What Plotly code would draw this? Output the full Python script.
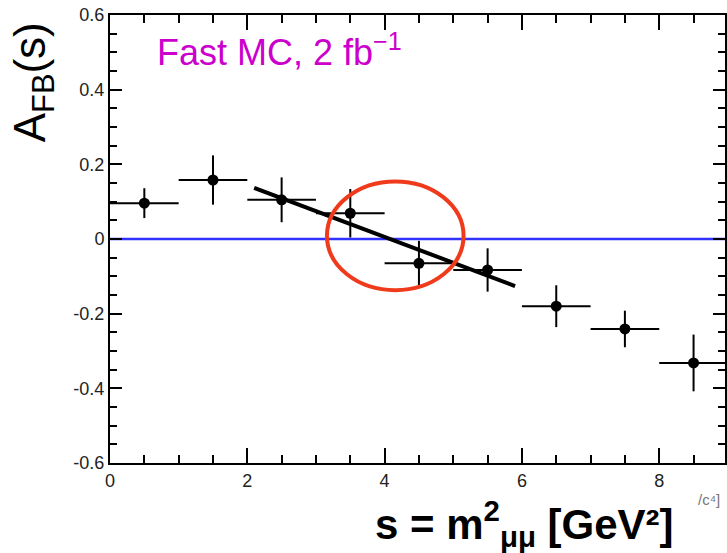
import plotly.graph_objects as go

# ---- data ----
s_center = [0.5, 1.5, 2.5, 3.5, 4.5, 5.5, 6.5, 7.5, 8.5]
s_halfwidth = [0.5, 0.5, 0.5, 0.5, 0.5, 0.5, 0.5, 0.5, 0.5]
afb = [0.096, 0.158, 0.105, 0.069, -0.065, -0.083, -0.180, -0.241, -0.332]
afb_err = [0.040, 0.066, 0.060, 0.065, 0.060, 0.058, 0.056, 0.049, 0.076]

fit_x = [2.1, 5.9]
fit_y = [0.137, -0.126]

ellipse_x = [3.16, 5.15]
ellipse_y = [-0.137, 0.154]

x_tickvals = [0, 2, 4, 6, 8]
x_ticktext = ["0", "2", "4", "6", "8"]
y_tickvals = [-0.6, -0.4, -0.2, 0, 0.2, 0.4, 0.6]
y_ticktext = ["-0.6", "-0.4", "-0.2", "0", "0.2", "0.4", "0.6"]

FONT = "Liberation Sans, Arial, Helvetica, sans-serif"

fig = go.Figure()

fig.add_trace(go.Scatter(
    x=s_center, y=afb, mode="markers",
    marker=dict(color="black", size=11, symbol="circle"),
    error_x=dict(type="data", array=s_halfwidth, color="black", thickness=2, width=0),
    error_y=dict(type="data", array=afb_err, color="black", thickness=2, width=0),
    showlegend=False, hoverinfo="skip",
))

fig.add_trace(go.Scatter(
    x=fit_x, y=fit_y, mode="lines",
    line=dict(color="black", width=4),
    showlegend=False, hoverinfo="skip",
))

# zero line
fig.add_shape(type="line", xref="paper", x0=0, x1=1, yref="y", y0=0, y1=0,
              line=dict(color="rgb(50,50,255)", width=2.5), layer="below")

# red ellipse
fig.add_shape(type="circle", xref="x", yref="y",
              x0=ellipse_x[0], x1=ellipse_x[1], y0=ellipse_y[0], y1=ellipse_y[1],
              line=dict(color="rgb(240,58,28)", width=4), layer="above")

axis_common = dict(
    showgrid=False, zeroline=False, showline=True, linecolor="black", linewidth=2,
    mirror="allticks", ticks="inside", tickcolor="black", tickwidth=2,
    tickfont=dict(family=FONT, size=18, color="#222222"),
)

fig.update_xaxes(
    range=[0, 8.958], tickmode="array", tickvals=x_tickvals, ticktext=x_ticktext,
    ticklen=15,
    minor=dict(ticks="inside", dtick=0.5, tick0=0, ticklen=8, tickcolor="black", tickwidth=2),
    **axis_common,
)
fig.update_yaxes(
    range=[-0.6, 0.6], tickmode="array", tickvals=y_tickvals, ticktext=y_ticktext,
    ticklen=12,
    minor=dict(ticks="inside", dtick=0.05, tick0=0, ticklen=7, tickcolor="black", tickwidth=2),
    **axis_common,
)

L, T, R, B = 110, 15, 0, 90
W, H = 727, 553
pw, ph = W - L - R, H - T - B


def px(xp):
    return (xp - L) / pw


def py(yp):
    return (H - B - yp) / ph


annotations = [
    dict(text="Fast MC, 2 fb<sup>\u22121</sup>", x=px(155), y=py(50), xref="paper", yref="paper",
         xanchor="left", yanchor="middle", showarrow=False,
         font=dict(family=FONT, size=36, color="#CC00CC")),
    dict(text="A<sub>FB</sub>(s)", x=px(33), y=py(82), xref="paper", yref="paper",
         xanchor="center", yanchor="middle", showarrow=False, textangle=-90,
         font=dict(family=FONT, size=44, color="black")),
    dict(text="<b>s = m<sup>2</sup><sub>\u03bc\u03bc</sub> [GeV\u00b2]</b>", x=px(526), y=py(523),
         xref="paper", yref="paper", xanchor="center", yanchor="middle", showarrow=False,
         font=dict(family=FONT, size=42, color="black")),
    dict(text="/c\u2074]", x=px(698), y=py(499), xref="paper", yref="paper",
         xanchor="left", yanchor="middle", showarrow=False,
         font=dict(family=FONT, size=15, color="#777777")),
]

fig.update_layout(
    width=W, height=H,
    margin=dict(l=L, r=R, t=T, b=B, pad=0),
    paper_bgcolor="white", plot_bgcolor="white",
    annotations=annotations,
    showlegend=False,
)

fig.write_html("out.html")
